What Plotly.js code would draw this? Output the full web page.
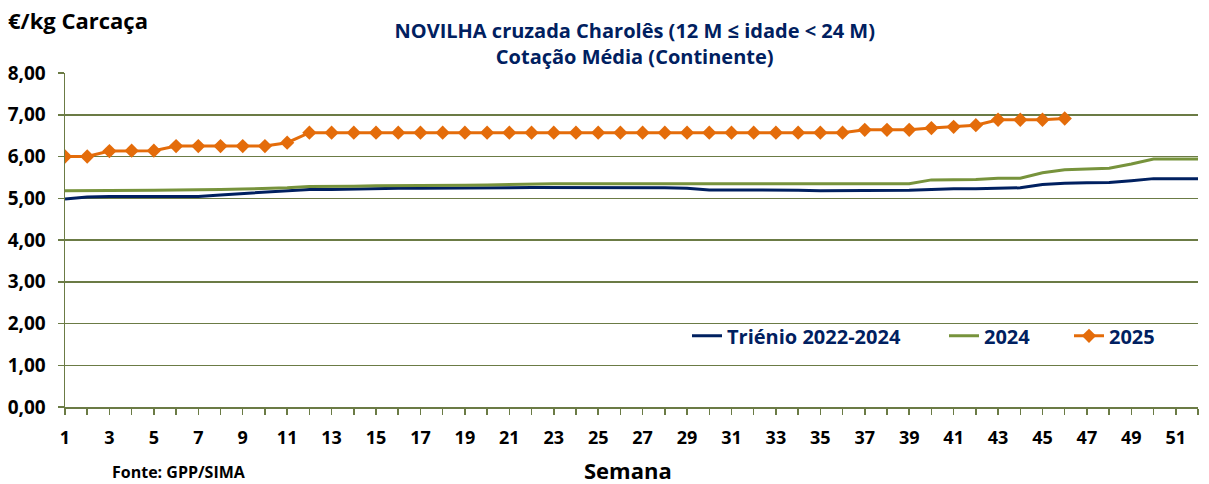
<!DOCTYPE html>
<html>
<head>
<meta charset="utf-8">
<script src="https://cdn.plot.ly/plotly-3.0.1.min.js"></script>
<style>
html,body{margin:0;padding:0;background:#fff;}
#chart{width:1209px;height:484px;}
</style>
</head>
<body>
<div id="chart"></div>
<script>
const weeks = Array.from({length: 52}, (_, i) => i + 1);

const trienio = [4.98,5.03,5.04,5.04,5.03,5.04,5.04,5.08,5.11,5.15,
  5.18,5.21,5.21,5.22,5.24,5.24,5.24,5.24,5.24,5.25,
  5.25,5.26,5.26,5.26,5.25,5.25,5.25,5.25,5.24,5.20,
  5.20,5.20,5.19,5.19,5.18,5.18,5.19,5.19,5.19,5.21,
  5.23,5.23,5.24,5.25,5.33,5.36,5.37,5.38,5.42,5.47,
  5.47,5.47];

const y2024 = [5.18,5.18,5.19,5.19,5.19,5.20,5.20,5.21,5.22,5.23,
  5.25,5.28,5.28,5.29,5.30,5.30,5.31,5.31,5.31,5.32,
  5.33,5.35,5.35,5.35,5.35,5.35,5.35,5.35,5.35,5.35,
  5.35,5.35,5.35,5.35,5.35,5.35,5.35,5.35,5.35,5.44,
  5.45,5.45,5.48,5.48,5.61,5.68,5.70,5.72,5.82,5.94,
  5.94,5.94];

const y2025 = [6.00,6.00,6.13,6.14,6.14,6.25,6.25,6.25,6.25,6.25,
  6.33,6.57,6.57,6.57,6.57,6.57,6.57,6.57,6.57,6.57,
  6.57,6.57,6.57,6.57,6.57,6.57,6.57,6.57,6.57,6.57,
  6.57,6.57,6.57,6.57,6.57,6.57,6.64,6.64,6.64,6.68,
  6.71,6.75,6.88,6.88,6.88,6.91];

const xTickLabels = weeks.map(w => (w % 2 === 1 ? String(w) : ''));

const FONT = '"Open Sans", Lato, sans-serif';
const NAVY = '#002060';
const OLIVE = '#6B7B45';

const traces = [
  {x: weeks, y: trienio, name: 'Triénio 2022-2024', type: 'scatter', mode: 'lines',
   line: {color: NAVY, width: 3}, legend: 'legend'},
  {x: weeks, y: y2024, name: '2024', type: 'scatter', mode: 'lines',
   line: {color: '#77933C', width: 3}, legend: 'legend2'},
  {x: weeks.slice(0, y2025.length), y: y2025, name: '2025', type: 'scatter', mode: 'lines+markers',
   line: {color: '#E46C0A', width: 3},
   marker: {symbol: 'diamond', size: 11, color: '#E46C0A'}, legend: 'legend3'}
];

function legendAt(px) {
  return {
    orientation: 'h', x: (px - 65) / (1198 - 65), xanchor: 'left',
    y: 0.213, yanchor: 'middle',
    bgcolor: 'rgba(0,0,0,0)',
    font: {family: FONT, size: 20, color: NAVY, weight: 'bold'},
    itemwidth: 30
  };
}

const layout = {
  width: 1209, height: 484,
  margin: {l: 65, r: 11, t: 73, b: 77},
  paper_bgcolor: '#fff', plot_bgcolor: '#fff',
  separators: ',.',
  font: {family: FONT, color: '#000'},
  showlegend: true,
  title: {
    text: '<b>NOVILHA cruzada Charolês (12 M ≤ idade < 24 M)<br>Cotação Média (Continente)</b>',
    font: {family: FONT, size: 20, color: NAVY},
    x: 0.525, xanchor: 'center', y: 0.921, yanchor: 'middle'
  },
  legend: legendAt(687),
  legend2: legendAt(944),
  legend3: legendAt(1069),
  xaxis: {
    range: [1, 52],
    tickmode: 'array', tickvals: weeks, ticktext: xTickLabels,
    ticks: 'outside', ticklen: 6, tickcolor: OLIVE, tickwidth: 1.5,
    showline: true, linecolor: OLIVE, linewidth: 1.5,
    showgrid: false, zeroline: false,
    tickfont: {family: FONT, size: 18, color: '#000', weight: 'bold'},
    ticklabelstandoff: 8,
    tickangle: 0
  },
  yaxis: {
    range: [0, 8], dtick: 1, tick0: 0, tickformat: '.2f',
    ticks: 'outside', ticklen: 6, tickcolor: OLIVE, tickwidth: 1.5,
    showline: true, linecolor: OLIVE, linewidth: 1.5,
    showgrid: true, gridcolor: OLIVE, gridwidth: 1.5,
    zeroline: false,
    tickfont: {family: FONT, size: 19, color: '#000', weight: 'bold'},
    ticklabelstandoff: 8
  },
  annotations: [
    {text: '<b>€/kg Carcaça</b>', xref: 'paper', yref: 'paper',
     x: -0.0495, y: 1.0, xanchor: 'left', yanchor: 'middle',
     yshift: 53, xshift: -3,
     showarrow: false, font: {family: FONT, size: 22, color: '#000'}},
    {text: '<b>Semana</b>', xref: 'paper', yref: 'paper',
     x: 0.497, y: 0, xanchor: 'center', yanchor: 'middle', yshift: -63,
     showarrow: false, font: {family: FONT, size: 22, color: '#000'}},
    {text: '<b>Fonte: GPP/SIMA</b>', xref: 'paper', yref: 'paper',
     x: 0.04, y: 0, xanchor: 'left', yanchor: 'middle', yshift: -65,
     showarrow: false, font: {family: FONT, size: 16, color: '#000'}}
  ]
};

Plotly.newPlot('chart', traces, layout, {displayModeBar: false, staticPlot: true});
</script>
</body>
</html>
